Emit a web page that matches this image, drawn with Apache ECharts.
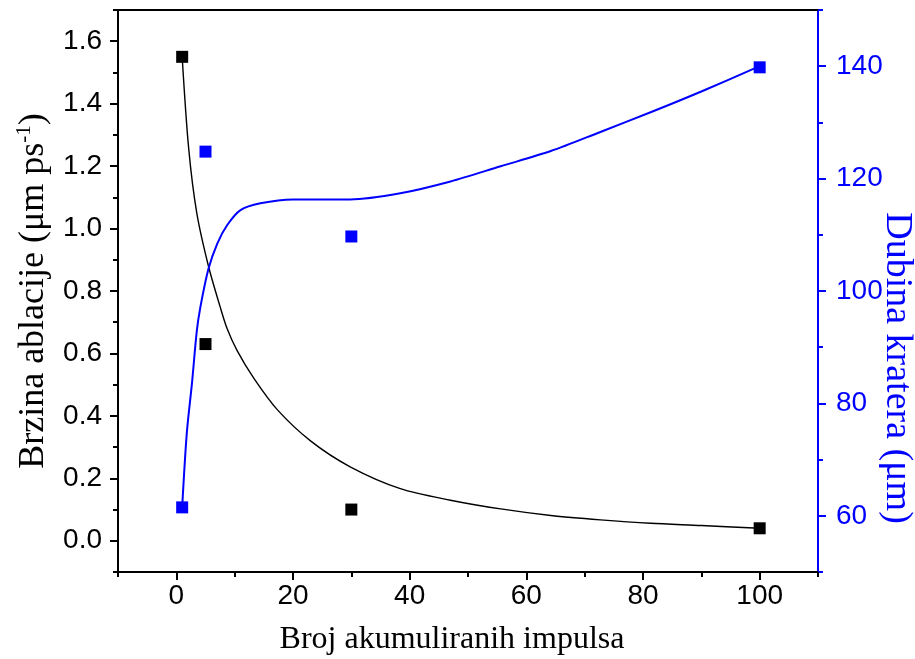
<!DOCTYPE html>
<html><head><meta charset="utf-8">
<script src="https://cdn.jsdelivr.net/npm/echarts@6/dist/echarts.min.js"></script>
<style>html,body{margin:0;padding:0;background:#fff}#c{width:915px;height:659px}</style>
</head><body><div id="c"></div>
<script>
// Measured points
var pulses = [1, 5, 30, 100];
var ablationRate = [1.55, 0.63, 0.10, 0.04];
var craterDepth = [61.5, 124.8, 109.7, 139.8];
// Fitted curves
var ablFitX = [1, 2.1, 3.5, 5.5, 7.5, 8.7, 10.4, 13.3, 17.3, 23, 29.8, 38.4, 47, 55.6, 64.2, 72.7, 81.3, 90, 100];
var ablFitY = [1.55, 1.26, 1.05, 0.88, 0.75, 0.68, 0.61, 0.52, 0.42, 0.32, 0.237, 0.167, 0.13, 0.102, 0.081, 0.067, 0.056, 0.049, 0.04];
var depthFitX = [1, 1.8, 2.7, 3.5, 4.1, 5.5, 7, 8.7, 11, 14.4, 20, 29.8, 38.4, 47, 55.6, 64.2, 72.7, 81.3, 90, 100];
var depthFitY = [61.5, 74.8, 83.8, 92.8, 97, 103.9, 108.4, 111.7, 114.4, 115.6, 116.3, 116.3, 117.4, 119.5, 122.2, 124.9, 128.3, 131.8, 135.5, 140];
// Tick values
var xMajor = [0, 20, 40, 60, 80, 100];
var xMinor = [-10, 10, 30, 50, 70, 90, 110];
var yLeftMajor = [0, 0.2, 0.4, 0.6, 0.8, 1.0, 1.2, 1.4, 1.6];
var yLeftMinor = [-0.1, 0.1, 0.3, 0.5, 0.7, 0.9, 1.1, 1.3, 1.5, 1.7];
var yRightMajor = [60, 80, 100, 120, 140];
var yRightMinor = [50, 70, 90, 110, 130, 150];

function pair(xs, ys) { return xs.map(function (x, i) { return [x, ys[i]]; }); }

var BLUE = '#0000ff';
var tickFont = 'Liberation Sans, Arial, sans-serif';
var serif = 'Liberation Serif, Times New Roman, serif';
var chart = echarts.init(document.getElementById('c'), null, {renderer: 'canvas'});
chart.setOption({
  animation: false,
  backgroundColor: '#fff',
  grid: {left: 118, right: 97, top: 10, bottom: 87, containLabel: false, outerBoundsMode: 'none'},
  xAxis: [{
    type: 'value', min: -10, max: 110, position: 'bottom',
    name: 'Broj akumuliranih impulsa', nameLocation: 'middle', nameGap: 52, nameMoveOverlap: false,
    nameTextStyle: {fontFamily: serif, fontSize: 32, color: '#000', padding: [0, 32, 0, 0]},
    axisLine: {show: true, onZero: false, lineStyle: {color: '#000', width: 2}},
    axisTick: {show: true, inside: false, length: 8, lineStyle: {width: 2, color: '#000'}, customValues: xMajor},
    axisLabel: {customValues: xMajor, fontFamily: tickFont, fontSize: 28, color: '#000', margin: 10},
    splitLine: {show: false}
  }, {
    type: 'value', min: -10, max: 110, position: 'bottom',
    axisLine: {show: false, onZero: false},
    axisTick: {show: true, inside: false, length: 5, lineStyle: {width: 2, color: '#000'}, customValues: xMinor},
    axisLabel: {show: false}, splitLine: {show: false}
  }, {
    type: 'value', min: -10, max: 110, position: 'top',
    axisLine: {show: true, onZero: false, lineStyle: {color: '#000', width: 2}},
    axisTick: {show: false}, axisLabel: {show: false}, splitLine: {show: false}
  }],
  yAxis: [{
    type: 'value', min: -0.1, max: 1.7, position: 'left',
    name: '{t|Brzina ablacije (μm ps}{s|-1}{t|)}', nameLocation: 'middle', nameGap: 65, nameRotate: 90, nameMoveOverlap: false,
    nameTextStyle: {rich: {
      t: {fontFamily: serif, fontSize: 36, color: '#000'},
      s: {fontFamily: serif, fontSize: 21, color: '#000', verticalAlign: 'top', padding: [0, 0, 18, 0]}
    }},
    axisLine: {show: true, onZero: false, lineStyle: {color: '#000', width: 2}},
    axisTick: {show: true, inside: false, length: 8, lineStyle: {width: 2, color: '#000'}, customValues: yLeftMajor},
    axisLabel: {customValues: yLeftMajor, fontFamily: tickFont, fontSize: 28, color: '#000', margin: 16,
      formatter: function (v) { return v.toFixed(1); }},
    splitLine: {show: false}
  }, {
    type: 'value', min: -0.1, max: 1.7, position: 'left',
    axisLine: {show: false, onZero: false},
    axisTick: {show: true, inside: false, length: 5, lineStyle: {width: 2, color: '#000'}, customValues: yLeftMinor},
    axisLabel: {show: false}, splitLine: {show: false}
  }, {
    type: 'value', min: 50, max: 150, position: 'right',
    name: 'Dubina kratera (μm)', nameLocation: 'middle', nameGap: 60, nameRotate: -90, nameMoveOverlap: false,
    nameTextStyle: {fontFamily: serif, fontSize: 38, color: BLUE, padding: [0, 0, 0, 154]},
    axisLine: {show: true, onZero: false, lineStyle: {color: BLUE, width: 2}},
    axisTick: {show: true, inside: false, length: 8, lineStyle: {width: 2, color: BLUE}, customValues: yRightMajor},
    axisLabel: {customValues: yRightMajor, fontFamily: tickFont, fontSize: 28, color: BLUE, margin: 18},
    splitLine: {show: false}
  }, {
    type: 'value', min: 50, max: 150, position: 'right',
    axisLine: {show: false, onZero: false},
    axisTick: {show: true, inside: false, length: 5, lineStyle: {width: 2, color: BLUE}, customValues: yRightMinor},
    axisLabel: {show: false}, splitLine: {show: false}
  }],
  series: [{
    type: 'line', xAxisIndex: 0, yAxisIndex: 0, data: pair(ablFitX, ablFitY),
    showSymbol: false, symbol: 'none', smooth: 0.3,
    lineStyle: {color: '#000', width: 1.4}, z: 2
  }, {
    type: 'line', xAxisIndex: 0, yAxisIndex: 2, data: pair(depthFitX, depthFitY),
    showSymbol: false, symbol: 'none', smooth: 0.3,
    lineStyle: {color: BLUE, width: 2}, z: 2
  }, {
    type: 'scatter', xAxisIndex: 0, yAxisIndex: 0, data: pair(pulses, ablationRate),
    symbol: 'rect', symbolSize: 12, itemStyle: {color: '#000', opacity: 1}, z: 3
  }, {
    type: 'scatter', xAxisIndex: 0, yAxisIndex: 2, data: pair(pulses, craterDepth),
    symbol: 'rect', symbolSize: 12, itemStyle: {color: BLUE, opacity: 1}, z: 3
  }]
});
</script>
</body></html>
